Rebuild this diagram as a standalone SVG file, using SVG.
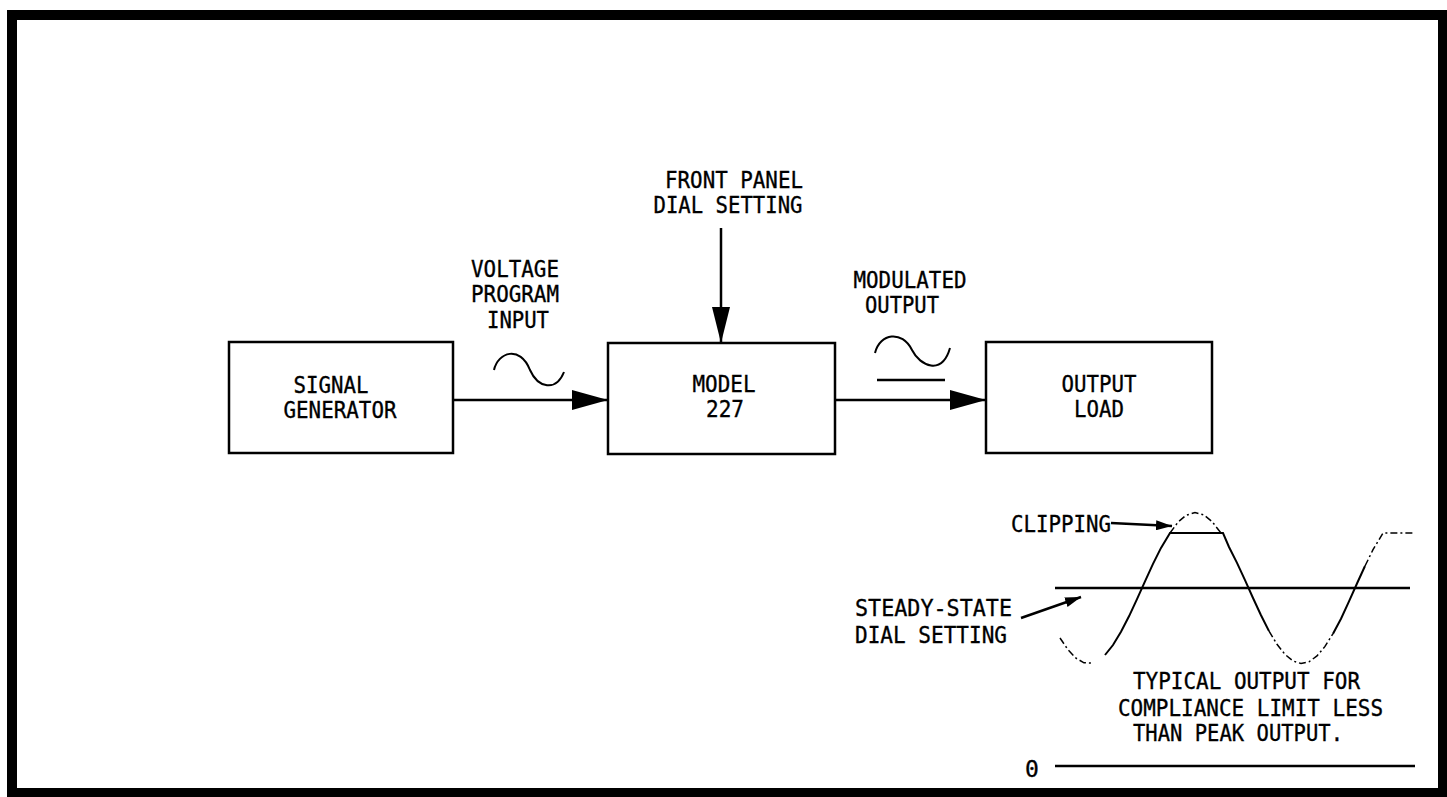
<svg xmlns="http://www.w3.org/2000/svg" width="1447" height="797" viewBox="0 0 1447 797">
<style>
.t{font-family:"DejaVu Sans Mono","Liberation Mono",monospace;font-size:23px;fill:#000;stroke:#000;stroke-width:0.35}
.m{text-anchor:middle}
.box{fill:#fff;stroke:#000;stroke-width:2.5}
.ln{fill:none;stroke:#000;stroke-width:2.5}
.w{fill:none;stroke:#000;stroke-width:2}
.d{fill:none;stroke:#000;stroke-width:1.5;stroke-dasharray:7 3 2 3}
</style>
<defs>
<marker id="big" markerWidth="36" markerHeight="20" refX="36" refY="10" orient="auto" markerUnits="userSpaceOnUse"><path d="M0,0 L36,10 L0,20 Z" fill="#000"/></marker>
<marker id="bigv" markerWidth="36" markerHeight="18" refX="36" refY="9" orient="auto" markerUnits="userSpaceOnUse"><path d="M0,0 L36,9 L0,18 Z" fill="#000"/></marker>
<marker id="sm" markerWidth="16" markerHeight="10" refX="16" refY="5" orient="auto" markerUnits="userSpaceOnUse"><path d="M0,0 L16,5 L0,10 Z" fill="#000"/></marker>
</defs>
<rect width="1447" height="797" fill="#fff"/>
<path d="M7,10 H1447 V797 H7 Z M17,20 V788 H1438 V20 Z" fill="#000" fill-rule="evenodd"/>

<g id="signal-generator">
<rect class="box" x="229" y="342" width="224" height="111"/>
<text class="t m" x="331" y="393" textLength="75" lengthAdjust="spacingAndGlyphs">SIGNAL</text>
<text class="t m" x="340" y="418" textLength="113" lengthAdjust="spacingAndGlyphs">GENERATOR</text>
</g>
<g id="model-227">
<rect class="box" x="608" y="343" width="227" height="111"/>
<text class="t m" x="724" y="392" textLength="63" lengthAdjust="spacingAndGlyphs">MODEL</text>
<text class="t m" x="725" y="417" textLength="38" lengthAdjust="spacingAndGlyphs">227</text>
</g>
<g id="output-load">
<rect class="box" x="986" y="342" width="226" height="111"/>
<text class="t m" x="1099" y="392" textLength="75" lengthAdjust="spacingAndGlyphs">OUTPUT</text>
<text class="t m" x="1099" y="417" textLength="50" lengthAdjust="spacingAndGlyphs">LOAD</text>
</g>
<g id="front-panel-label">
<text class="t m" x="734" y="188" textLength="138" lengthAdjust="spacingAndGlyphs">FRONT PANEL</text>
<text class="t m" x="728" y="213" textLength="149" lengthAdjust="spacingAndGlyphs">DIAL SETTING</text>
</g>
<g id="voltage-program-label">
<text class="t m" x="515" y="277" textLength="88" lengthAdjust="spacingAndGlyphs">VOLTAGE</text>
<text class="t m" x="515" y="302" textLength="88" lengthAdjust="spacingAndGlyphs">PROGRAM</text>
<text class="t m" x="518" y="328" textLength="62" lengthAdjust="spacingAndGlyphs">INPUT</text>
<path class="w" d="M494,370 C498,352 520,345 530,370 C538,388 556,392 564,372"/>
</g>
<g id="modulated-output-label">
<text class="t m" x="910" y="288" textLength="113" lengthAdjust="spacingAndGlyphs">MODULATED</text>
<text class="t m" x="902" y="313" textLength="74" lengthAdjust="spacingAndGlyphs">OUTPUT</text>
<path class="w" d="M875,353 C880,333 902,330 912,350 C920,366 942,376 950,348"/>
<path class="ln" d="M877,380 H945"/>
</g>

<g id="connectors">
<path class="ln" d="M721,228 V343" marker-end="url(#bigv)"/>
<path class="ln" d="M453,400 H608" marker-end="url(#big)"/>
<path class="ln" d="M835,400 H986" marker-end="url(#big)"/>
</g>

<g id="waveform">
<path class="ln" d="M1055,588 H1410"/>
<path class="ln" d="M1055,766 H1415"/>
<path class="w" d="M1105,655 L1113,645 L1121,631.8 L1129,616.3 L1137,599.1 L1145,581.3 L1153,563.9 L1161,547.9 L1170,533 L1223,533 L1229,547 L1237,562.9 L1245,580.2 L1253,598 L1261,615.2 L1269,631.1"/>
<path class="d" d="M1269,631.1 L1277,644.3 L1285,654.4 L1293,661 L1301,663.5 L1309,661.8 L1317,655.9 L1325,646.4 L1333,633.7"/>
<path class="w" d="M1333,633.7 L1341,618.7 L1349,601.3 L1357,583.5 L1365,566"/>
<path class="d" d="M1365,566 L1373,549.7 L1383,533 L1413,533"/>
<path class="d" d="M1170,533 L1178,522.1 L1186,515.3 L1195,512.5 L1204,515 L1212,521.5 L1221,533"/>
<path class="d" d="M1060,638 L1068,649.8 L1076,658.2 L1084,662.8 L1092,663"/>
<path class="ln" d="M1111,523 L1172,526" marker-end="url(#sm)"/>
<path class="ln" d="M1021,618 L1081,597" marker-end="url(#sm)"/>
<text class="t" x="1011" y="532" textLength="100" lengthAdjust="spacingAndGlyphs">CLIPPING</text>
<text class="t" x="855" y="616" textLength="157" lengthAdjust="spacingAndGlyphs">STEADY-STATE</text>
<text class="t" x="855" y="643" textLength="152" lengthAdjust="spacingAndGlyphs">DIAL SETTING</text>
<text class="t" x="1133" y="689" textLength="227" lengthAdjust="spacingAndGlyphs">TYPICAL OUTPUT FOR</text>
<text class="t" x="1118" y="716" textLength="265" lengthAdjust="spacingAndGlyphs">COMPLIANCE LIMIT LESS</text>
<text class="t" x="1133" y="741" textLength="210" lengthAdjust="spacingAndGlyphs">THAN PEAK OUTPUT.</text>
<text class="t" x="1025" y="777">0</text>
</g>
</svg>
